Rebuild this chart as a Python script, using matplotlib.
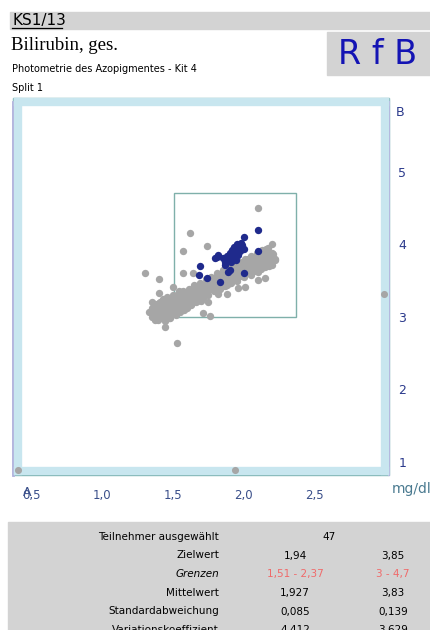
import matplotlib
matplotlib.use('Agg')
import matplotlib.pyplot as plt
from matplotlib.patches import Rectangle

# other labs (grey) and selected participants (blue), values in mg/dl
grey_x = [1.35, 1.36, 1.37, 1.38, 1.39, 1.40, 1.41, 1.42, 1.43, 1.44, 1.45, 1.46, 1.47, 1.48,
          1.49, 1.50, 1.51, 1.52, 1.53, 1.54, 1.55, 1.56, 1.57, 1.58, 1.59, 1.60, 1.61, 1.62,
          1.63, 1.64, 1.65, 1.66, 1.67, 1.68, 1.69, 1.70, 1.71, 1.72, 1.73, 1.74, 1.75, 1.76,
          1.77, 1.78, 1.79, 1.80, 1.81, 1.82, 1.83, 1.84, 1.85, 1.86, 1.87, 1.88, 1.89, 1.90,
          1.91, 1.92, 1.93, 1.94, 1.95, 1.96, 1.97, 1.98, 1.99, 2.00, 2.01, 2.02, 2.03, 2.04,
          2.05, 2.06, 2.07, 2.08, 2.09, 2.10, 2.11, 2.12, 2.13, 2.14, 2.15, 2.16, 2.17, 2.18,
          2.20,
          1.38, 1.42, 1.46, 1.44, 1.48, 1.52, 1.55, 1.58, 1.35, 1.40, 1.50, 1.54, 1.60, 1.63,
          1.66, 1.70, 1.85, 1.90, 1.95, 2.00, 2.05, 2.10, 2.15, 2.20, 2.22, 2.18, 2.12, 2.02,
          1.92, 1.88,
          1.33, 1.37, 1.41, 1.45, 1.49, 1.53, 1.57, 1.61, 1.65, 1.69, 1.73, 1.77, 1.81, 1.85,
          1.89, 1.93, 1.97, 2.01, 2.05, 2.09, 2.13, 2.17, 2.21,
          1.39, 1.43, 1.47, 1.51, 1.55, 1.59, 1.63, 1.67, 1.71, 1.75, 1.79, 1.83, 1.87, 1.91,
          1.95, 1.99, 2.03, 2.07, 2.11, 2.15, 2.19,
          2.10, 1.62, 1.57, 1.74, 2.20, 2.16, 2.22, 1.30, 1.40, 1.57, 1.64, 2.15, 2.10, 1.96,
          2.01, 1.50, 1.35, 1.43, 1.75, 1.82, 1.88, 1.71, 1.76, 1.37, 1.44, 1.53, 1.40]
grey_y = [3.00, 3.06, 2.97, 3.10, 3.03, 2.98, 3.12, 3.05, 3.15, 3.01, 3.09, 3.18, 3.04, 3.13,
          3.20, 3.08, 3.16, 3.24, 3.11, 3.19, 3.27, 3.14, 3.22, 3.30, 3.18, 3.26, 3.33, 3.21,
          3.29, 3.36, 3.25, 3.32, 3.40, 3.28, 3.36, 3.43, 3.31, 3.39, 3.46, 3.35, 3.42, 3.50,
          3.38, 3.46, 3.53, 3.41, 3.49, 3.56, 3.45, 3.52, 3.59, 3.48, 3.56, 3.62, 3.51, 3.59,
          3.66, 3.55, 3.62, 3.69, 3.58, 3.66, 3.72, 3.61, 3.69, 3.76, 3.65, 3.72, 3.79, 3.68,
          3.76, 3.82, 3.71, 3.79, 3.85, 3.74, 3.82, 3.88, 3.77, 3.85, 3.90, 3.80, 3.87, 3.83,
          3.88,
          3.15, 3.22, 3.27, 2.94, 2.99, 3.02, 3.06, 3.09, 3.12, 3.19, 3.30, 3.35, 3.12, 3.16,
          3.20, 3.22, 3.42, 3.47, 3.50, 3.55, 3.58, 3.62, 3.68, 3.72, 3.80, 3.70, 3.66, 3.60,
          3.52, 3.44,
          3.06, 3.18, 3.20, 3.24, 3.26, 3.30, 3.35, 3.38, 3.44, 3.47, 3.52, 3.55, 3.60, 3.64,
          3.68, 3.72, 3.76, 3.80, 3.84, 3.88, 3.92, 3.95, 3.86,
          2.96, 3.00, 2.99, 3.05, 3.10, 3.13, 3.17, 3.22, 3.26, 3.30, 3.35, 3.38, 3.43, 3.47,
          3.52, 3.56, 3.60, 3.63, 3.68, 3.73, 3.76,
          4.50, 4.15, 3.90, 3.97, 4.01, 3.94, 3.78, 3.61, 3.52, 3.60, 3.61, 3.54, 3.51, 3.39,
          3.41, 3.41, 3.21, 3.25, 3.21, 3.32, 3.32, 3.05, 3.01, 2.95, 2.86, 2.64, 3.33]

# results outside the plotted range, shown on the frame
out_x = [0.40, 1.94, 2.99]
out_y = [0.89, 0.89, 3.31]

blue_x = [2.10, 2.00, 2.10, 1.985, 1.96, 2.00, 1.94, 1.90, 1.92, 1.96, 1.89, 1.91, 1.945,
          1.82, 1.80, 1.85, 1.90, 1.89, 2.00, 1.69, 1.68, 1.74, 1.83, 1.87, 1.98, 1.95,
          1.93, 1.88, 1.81, 1.87, 1.97, 1.92]
blue_y = [4.20, 4.10, 3.91, 3.99, 3.94, 3.94, 3.89, 3.88, 3.82, 3.85, 3.78, 3.75, 3.78,
          3.85, 3.81, 3.81, 3.64, 3.62, 3.60, 3.70, 3.58, 3.54, 3.48, 3.71, 4.02, 4.00,
          3.96, 3.84, 3.83, 3.76, 3.90, 3.92]

target = (1.94, 3.85)
limits_x = (1.51, 2.37)
limits_y = (3.0, 4.7)

xticks = [0.5, 1.0, 1.5, 2.0, 2.5]
xtick_labels = ['0,5', '1,0', '1,5', '2,0', '2,5']
yticks = [1, 2, 3, 4, 5]

row_labels = ['Teilnehmer ausgewählt', 'Zielwert', 'Grenzen', 'Mittelwert',
              'Standardabweichung', 'Variationskoeffizient']
col_a = ['', '1,94', '1,51 - 2,37', '1,927', '0,085', '4,412']
col_b = ['', '3,85', '3 - 4,7', '3,83', '0,139', '3,629']
n_selected = '47'

W, H = 430, 630
fig = plt.figure(figsize=(W / 100, H / 100), dpi=100)


def fx(px):
    return px / W


def fy(py):
    return 1 - py / H


# header
fig.patches.append(Rectangle((fx(10), fy(29)), 1, 17 / H, transform=fig.transFigure,
                             color='#d3d3d3', zorder=0))
fig.text(fx(12), fy(20.5), 'KS1/13', fontsize=11, va='center', ha='left', color='black')
fig.lines.append(plt.Line2D([fx(12), fx(62)], [fy(28), fy(28)], transform=fig.transFigure,
                            color='black', lw=0.9))
fig.text(fx(11), fy(46), 'Bilirubin, ges.', fontsize=13.5, family='Liberation Serif',
         va='center', ha='left')
fig.text(fx(12), fy(69), 'Photometrie des Azopigmentes - Kit 4', fontsize=7, va='center')
fig.text(fx(12), fy(88), 'Split 1', fontsize=7, va='center')
fig.patches.append(Rectangle((fx(327), fy(75)), 1, 43 / H, transform=fig.transFigure,
                             color='#d3d3d3', zorder=0))
fig.text(fx(378), fy(54), 'R f B', fontsize=24, color='#1414b4', ha='center', va='center')

# scatter plot
ax = fig.add_axes([fx(17.5), fy(471), (384.5 - 17.5) / W, (471 - 102) / H])
ax.set_xlim(0.40, 2.995)
ax.set_ylim(0.875, 5.96)

for side in ['left', 'right', 'top', 'bottom']:
    ax.spines[side].set_color('#c8e6ef')
    ax.spines[side].set_linewidth(6)
outer = Rectangle((-0.012, -0.012), 1.024, 1.024, transform=ax.transAxes, fill=False,
                  edgecolor='#7fb4b4', lw=1.0, clip_on=False, zorder=1)
ax.add_patch(outer)
ax.plot([-0.012, -0.012], [-0.012, 1.0], transform=ax.transAxes, color='#b0b0dc', lw=2,
        clip_on=False, zorder=2)
ax.plot([1.012, 1.012], [-0.012, 1.0], transform=ax.transAxes, color='#b0b0dc', lw=1.5,
        clip_on=False, zorder=2)

ax.add_patch(Rectangle((limits_x[0], limits_y[0]), limits_x[1] - limits_x[0],
                       limits_y[1] - limits_y[0], fill=False, edgecolor='#7fb0aa', lw=1.0,
                       zorder=2))

ax.scatter(grey_x, grey_y, s=28, color='#a6a6a6', linewidths=0, zorder=3)
ax.scatter(blue_x, blue_y, s=28, color='#1f2a8c', linewidths=0, zorder=4)
ax.scatter(out_x, out_y, s=26, color='#a6a6a6', linewidths=0, zorder=6, clip_on=False)

ax.set_xticks(xticks)
ax.set_xticklabels(xtick_labels)
ax.yaxis.tick_right()
ax.set_yticks(yticks)
ax.tick_params(axis='x', colors='#3a4f8a', labelsize=8.5, length=2, pad=11, width=0.6)
ax.tick_params(axis='y', colors='#2b3a8c', labelsize=9, length=2, pad=8, width=0.6)

fig.text(fx(27), fy(493), 'A', fontsize=9, color='#3a4f8a', ha='center', va='center')
fig.text(fx(396), fy(113), 'B', fontsize=9, color='#2b3a8c', ha='left', va='center')
fig.text(fx(392), fy(489), 'mg/dl', fontsize=10, color='#4a7a90', ha='left', va='center')

# statistics table
fig.patches.append(Rectangle((fx(8), 0), 1, fy(522), transform=fig.transFigure,
                             color='#d3d3d3', zorder=0))
row_y = [537, 555.5, 574, 593, 611.5, 630]
for i, lab in enumerate(row_labels):
    style = 'italic' if lab == 'Grenzen' else 'normal'
    fig.text(fx(219), fy(row_y[i]), lab, fontsize=7.5, ha='right', va='center', style=style)
    col = '#f06a6a' if lab == 'Grenzen' else 'black'
    if col_a[i]:
        fig.text(fx(295), fy(row_y[i]), col_a[i], fontsize=7.5, ha='center', va='center',
                 color=col)
        fig.text(fx(393), fy(row_y[i]), col_b[i], fontsize=7.5, ha='center', va='center',
                 color=col)
fig.text(fx(329), fy(row_y[0]), n_selected, fontsize=7.5, ha='center', va='center')

fig.savefig('out.png', dpi=100)
